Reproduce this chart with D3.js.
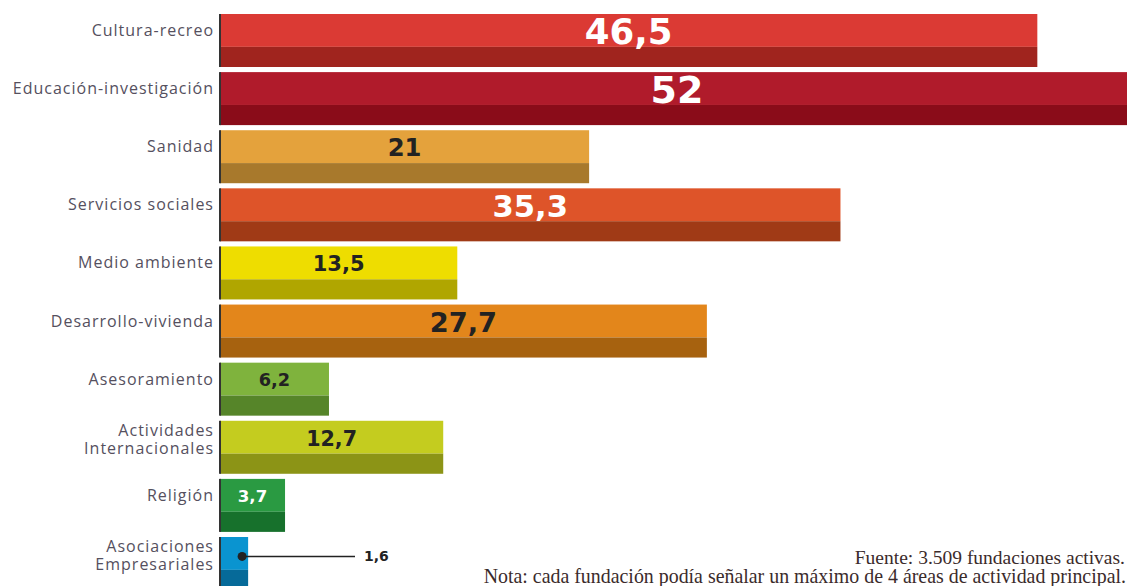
<!DOCTYPE html>
<html>
<head>
<meta charset="utf-8">
<script src="https://cdn.jsdelivr.net/npm/d3@7"></script>
<style>
  html, body { margin: 0; padding: 0; background: #fff; }
  svg { display: block; }
</style>
</head>
<body>
<div id="chart"></div>
<script>
// porcentaje de fundaciones por área de actividad
const categories = [
  "Cultura-recreo",
  "Educación-investigación",
  "Sanidad",
  "Servicios sociales",
  "Medio ambiente",
  "Desarrollo-vivienda",
  "Asesoramiento",
  "Actividades\nInternacionales",
  "Religión",
  "Asociaciones\nEmpresariales"
];
const values = [46.5, 52, 21, 35.3, 13.5, 27.7, 6.2, 12.7, 3.7, 1.6];
const valueLabels = ["46,5", "52", "21", "35,3", "13,5", "27,7", "6,2", "12,7", "3,7", "1,6"];

const lightColors = ["#db3a34", "#b01b2b", "#e4a23c", "#de5429", "#eedd00",
                     "#e3861b", "#7fb33d", "#c4cc1f", "#2a9a42", "#0a94d0"];
const darkColors  = ["#a0241e", "#8a0c19", "#a8792c", "#a03a16", "#b0a600",
                     "#a7620f", "#568529", "#8c9416", "#17712c", "#066a99"];
const valueInk    = ["#fff", "#fff", "#222", "#fff", "#222",
                     "#222", "#222", "#222", "#fff", "#222"];

const W = 1127, H = 586;

const svg = d3.select("#chart").append("svg")
    .attr("width", W)
    .attr("height", H);

const x = d3.scaleLinear().domain([0, 52]).range([220, 1134]);
const y = d3.scaleBand().domain(categories).range([14, 590]).paddingInner(0.088);
const fontSize = d3.scaleLinear().domain([0, 52]).range([15, 38]);

const bw = y.bandwidth();
const lightH = bw * 0.62;

const rows = svg.append("g").selectAll("g")
  .data(categories)
  .join("g")
    .attr("transform", d => `translate(0,${y(d)})`);

// parte clara
rows.append("rect")
    .attr("x", x(0))
    .attr("y", 0)
    .attr("width", (d, i) => x(values[i]) - x(0))
    .attr("height", lightH)
    .attr("fill", (d, i) => lightColors[i]);

// parte oscura
rows.append("rect")
    .attr("x", x(0))
    .attr("y", lightH)
    .attr("width", (d, i) => x(values[i]) - x(0))
    .attr("height", bw - lightH)
    .attr("fill", (d, i) => darkColors[i]);

// borde izquierdo
rows.append("rect")
    .attr("x", x(0) - 1)
    .attr("y", 0)
    .attr("width", 2)
    .attr("height", bw)
    .attr("fill", "#333");

// etiquetas de categoría
rows.append("text")
    .attr("text-anchor", "end")
    .attr("x", x(0) - 6)
    .attr("fill", "#55505e")
    .style("font-family", "'Open Sans', 'Noto Sans', sans-serif")
    .style("font-size", "16px")
    .style("letter-spacing", "1px")
    .each(function(d) {
      const lines = d.split("\n");
      const t = d3.select(this);
      const mid = lightH / 2 + (lines.length > 1 ? 2 : 0);
      lines.forEach((ln, k) => {
        t.append("tspan")
          .attr("x", x(0) - 6)
          .attr("y", mid + (k - (lines.length - 1) / 2) * 18)
          .attr("dy", "0.35em")
          .text(ln);
      });
    });

// valores dentro de la barra
rows.filter((d, i) => values[i] >= 3).append("text")
    .attr("text-anchor", "middle")
    .attr("x", d => (x(0) + x(values[categories.indexOf(d)])) / 2)
    .attr("y", lightH / 2 + 1)
    .attr("dy", "0.36em")
    .attr("fill", d => valueInk[categories.indexOf(d)])
    .style("font-family", "'DejaVu Sans', Verdana, sans-serif")
    .style("font-weight", "bold")
    .style("font-size", d => fontSize(values[categories.indexOf(d)]) + "px")
    .text(d => valueLabels[categories.indexOf(d)]);

// valor fuera de la barra con línea guía
const small = rows.filter((d, i) => values[i] < 3);
small.append("line")
    .attr("x1", d => x(values[categories.indexOf(d)]) - 6)
    .attr("x2", 355)
    .attr("y1", lightH / 2 + 3)
    .attr("y2", lightH / 2 + 3)
    .attr("stroke", "#222")
    .attr("stroke-width", 1.5);
small.append("circle")
    .attr("cx", d => x(values[categories.indexOf(d)]) - 6)
    .attr("cy", lightH / 2 + 3)
    .attr("r", 4.5)
    .attr("fill", "#222");
small.append("text")
    .attr("x", 364)
    .attr("y", lightH / 2 + 3)
    .attr("dy", "0.36em")
    .attr("fill", "#222")
    .style("font-family", "'DejaVu Sans', Verdana, sans-serif")
    .style("font-weight", "bold")
    .style("font-size", "14px")
    .text(d => valueLabels[categories.indexOf(d)]);

// notas
const notes = svg.append("g")
    .attr("text-anchor", "end")
    .attr("fill", "#3b2b2b")
    .style("font-family", "'Liberation Serif', 'DejaVu Serif', serif")
    .style("font-size", "19.5px");
notes.append("text").attr("x", 1125).attr("y", 564)
    .text("Fuente: 3.509 fundaciones activas.");
notes.append("text").attr("x", 1126).attr("y", 583)
    .style("font-size", "19.9px")
    .text("Nota: cada fundación podía señalar un máximo de 4 áreas de actividad principal.");
</script>
</body>
</html>
